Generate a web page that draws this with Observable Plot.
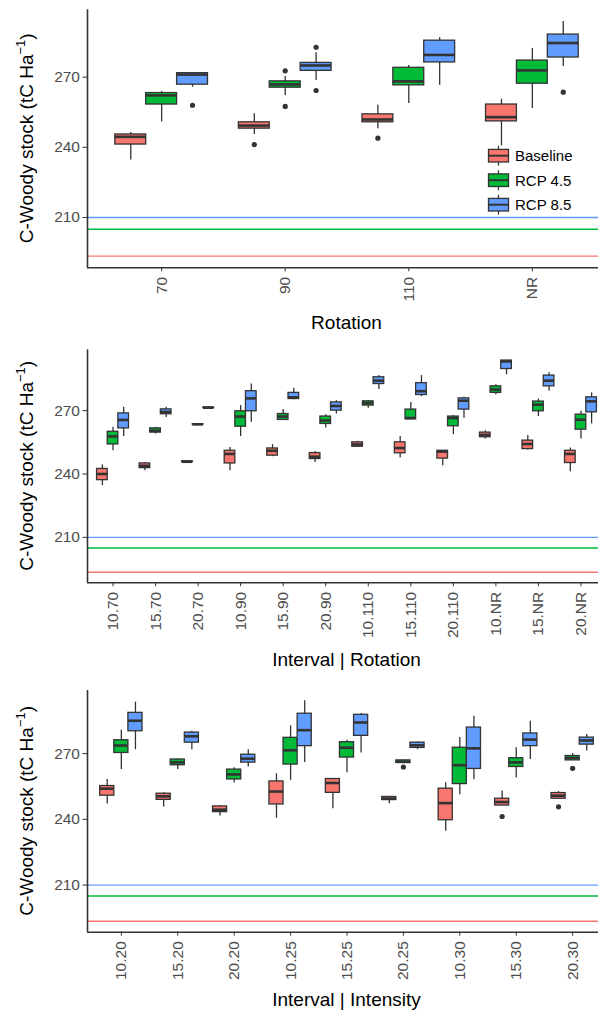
<!DOCTYPE html>
<html><head><meta charset="utf-8">
<script src="https://cdn.jsdelivr.net/npm/d3@7"></script>
<script src="https://cdn.jsdelivr.net/npm/@observablehq/plot@0.6"></script>
<style>
html,body{margin:0;padding:0;background:#fff;overflow:hidden;}
#chart svg{display:block;}
</style></head><body><div id="chart"></div>
<script>
// ---- shared ----
const scenarios = ["Baseline", "RCP 4.5", "RCP 8.5"];
const scenarioColors = ["#F8766D", "#00BA38", "#619CFF"];
const referenceLevels = [193.5, 205.0, 210.0];
const yTicks = [210, 240, 270];
const yDomain = [188.5, 298.8];
const yTitleMain = "C-Woody stock (tC Ha";
const yTitleSup = "\u22121";

// ---- panel 1: Rotation ---- each row [whiskerLow, q1, median, q3, whiskerHigh]
const rotationCats = ["70", "90", "110", "NR"];
const rotationBaseline = [[234.6,241.2,244.5,245.5,246.3],[245.5,248.0,249.3,250.7,254.4],[248.0,250.7,251.9,254.1,258.0],[240.6,251.1,252.9,258.3,260.6]];
const rotationRcp45 = [[250.9,258.3,262.2,263.2,263.9],[262.2,265.5,266.9,268.2,270.3],[258.7,266.5,268.2,274.0,275.0],[256.6,267.2,272.9,277.1,282.3]];
const rotationRcp85 = [[265.7,266.8,271.1,271.7,271.7],[268.6,272.7,275.0,276.1,280.4],[266.5,276.3,279.5,285.6,286.8],[274.6,278.4,284.6,288.2,293.8]];
const rotationOutliers = [["70","RCP 8.5",258.0],["90","Baseline",241.2],["90","RCP 4.5",272.7],["90","RCP 4.5",257.5],["90","RCP 8.5",282.8],["90","RCP 8.5",264.3],["110","Baseline",243.9],["NR","RCP 8.5",263.6]];

// ---- panel 2: Interval | Rotation ----
const intRotCats = ["10.70","15.70","20.70","10.90","15.90","20.90","10.110","15.110","20.110","10.NR","15.NR","20.NR"];
const intRotBaseline = [[234.5,237.1,240.0,242.4,244.3],[241.6,242.8,243.9,245.0,245.5],[245.6,245.7,245.8,246.0,246.1],[241.6,245.0,249.5,251.0,252.6],[248.2,248.7,251.0,252.1,253.9],[245.5,247.1,248.2,249.9,250.6],[252.6,252.9,254.0,255.0,255.5],[247.6,249.8,252.3,255.0,257.8],[243.9,247.3,250.6,251.0,251.0],[256.6,257.4,258.5,259.6,260.5],[251.4,251.8,254.2,255.8,258.2],[241.1,245.2,249.5,251.0,252.3]];
const intRotRcp45 = [[251.0,254.0,257.8,260.0,262.1],[258.9,259.6,260.5,261.6,262.1],[263.3,263.4,263.5,263.6,263.7],[257.7,262.4,267.2,269.7,272.4],[265.3,265.6,267.2,268.4,270.5],[261.8,263.7,265.3,267.2,268.1],[271.1,272.4,273.6,274.4,274.7],[265.9,265.9,266.5,270.5,273.9],[258.6,262.6,266.5,267.2,267.6],[277.4,278.4,280.0,281.5,282.3],[267.2,269.7,272.8,274.3,275.5],[256.6,261.0,265.7,268.1,269.7]];
const intRotRcp85 = [[257.8,261.6,265.6,268.7,271.6],[266.8,268.3,269.4,270.6,271.6],[271.2,271.3,271.4,271.5,271.6],[264.5,269.7,275.8,279.2,282.6],[275.1,275.5,276.3,278.4,280.6],[268.4,270.0,272.2,273.9,274.7],[280.0,282.6,284.2,285.8,286.6],[276.6,277.4,279.2,283.0,286.6],[266.4,270.5,274.7,275.8,276.3],[287.0,289.7,293.3,293.7,293.7],[279.2,281.5,284.2,286.6,287.9],[263.7,269.2,274.4,276.3,278.4]];
const intRotOutliers = [];

// ---- panel 3: Interval | Intensity ----
const intIntCats = ["10.20","15.20","20.20","10.25","15.25","20.25","10.30","15.30","20.30"];
const intIntBaseline = [[247.0,250.8,254.0,255.2,258.2],[245.6,248.9,250.5,251.7,252.1],[241.5,243.3,244.4,245.9,246.3],[240.5,246.8,252.7,257.3,260.8],[244.8,252.1,256.6,258.4,258.4],[247.1,248.8,249.5,250.2,250.5],[234.6,239.6,247.4,254.0,256.7],[246.3,246.3,247.9,249.4,252.9],[249.4,249.4,250.8,252.0,252.7]];
const intIntRcp45 = [[262.8,270.3,273.7,276.1,280.7],[262.7,264.7,266.0,267.3,267.7],[256.6,258.2,260.5,262.7,263.6],[257.8,265.0,271.5,277.2,282.7],[261.3,268.2,272.7,275.2,276.1],[265.7,265.7,266.3,266.9,266.9],[251.2,256.1,264.7,272.7,277.3],[258.9,263.9,266.0,267.9,272.7],[266.9,266.9,268.0,268.9,270.0]];
const intIntRcp85 = [[271.8,280.2,285.0,288.6,293.5],[271.8,275.0,277.9,279.6,280.2],[263.9,265.9,267.7,269.5,271.8],[265.9,273.4,280.7,288.2,294.1],[270.3,278.1,284.2,287.7,288.3],[271.8,272.6,273.8,275.0,275.3],[258.1,263.0,272.4,281.9,287.1],[267.3,273.4,276.4,279.2,284.8],[271.2,274.1,276.0,277.3,278.7]];
const intIntOutliers = [["20.25","RCP 4.5",263.9],["15.30","Baseline",241.3],["20.30","Baseline",245.7],["20.30","RCP 4.5",263.3]];

const FONT = "'Liberation Sans', Arial, Helvetica, sans-serif";
const W = 598, ML = 87, MR = -8;
const DODGE = 0.25, HALF = 0.125;

function panel(cfg) {
  const {cats, stats, outliers, xTitle, height, top, bottom, xTitleY, legend} = cfg;
  const n = cats.length;
  const rows = [];
  scenarios.forEach((s, si) => stats[si].forEach((v, ci) => {
    rows.push({s, pos: ci + (si - 1) * DODGE, lo: v[0], q1: v[1], med: v[2], q3: v[3], hi: v[4]});
  }));
  const outs = outliers.map(([c, s, v]) => ({s, pos: cats.indexOf(c) + (scenarios.indexOf(s) - 1) * DODGE, v}));
  const refs = scenarios.map((s, i) => ({s, v: referenceLevels[i]}));
  const xDomain = [-0.6, n - 1 + 0.6];

  const svg = Plot.plot({
    width: W, height, marginLeft: ML, marginRight: MR, marginTop: top, marginBottom: bottom,
    x: {type: "linear", domain: xDomain},
    y: {domain: yDomain},
    color: {domain: scenarios, range: scenarioColors},
    style: {fontFamily: FONT, fontSize: "15.5px", color: "#4D4D4D", background: "#fff", overflow: "visible"},
    marks: [
      Plot.ruleY(refs, {y: "v", stroke: "s", strokeWidth: 1.4}),
      Plot.ruleX(rows, {x: "pos", y1: "lo", y2: "hi", stroke: "#333", strokeWidth: 1.3}),
      Plot.rect(rows, {x1: d => d.pos - HALF, x2: d => d.pos + HALF, y1: "q1", y2: "q3", fill: "s", stroke: "#333", strokeWidth: 1.3}),
      Plot.ruleY(rows, {y: "med", x1: d => d.pos - HALF, x2: d => d.pos + HALF, stroke: "#333", strokeWidth: 2.6}),
      Plot.dot(outs, {x: "pos", y: "v", r: 2.6, fill: "#333", stroke: null}),
      Plot.axisY(yTicks, {tickSize: 4.5, tickPadding: 3, label: null, stroke: "#333", fill: "#4D4D4D"}),
      Plot.axisX(d3.range(n), {tickFormat: i => cats[i], tickRotate: -90, tickSize: 4, tickPadding: 5, label: null, stroke: "#333", fill: "#4D4D4D"}),
      Plot.ruleY([yDomain[0]], {stroke: "#333", strokeWidth: 1.6}),
      Plot.ruleX([xDomain[0]], {stroke: "#333", strokeWidth: 1.6})
    ]
  });

  const g = d3.select(svg);
  const plotBottom = height - bottom;
  // y title with superscript
  const yt = g.append("text")
    .attr("transform", `translate(33,${(top + plotBottom) / 2}) rotate(-90)`)
    .attr("text-anchor", "middle").attr("fill", "#000")
    .style("font-size", "19px").style("font-family", FONT);
  yt.append("tspan").text(yTitleMain);
  yt.append("tspan").attr("dy", "-8").style("font-size", "13px").text(yTitleSup);
  yt.append("tspan").attr("dy", "8").text(")");
  // x title
  g.append("text").attr("x", ML + (W - MR - ML) / 2).attr("y", xTitleY)
    .attr("text-anchor", "middle").attr("fill", "#000")
    .style("font-size", "19px").style("font-family", FONT).text(xTitle);

  if (legend) {
    const lg = g.append("g").attr("transform", "translate(488.5,0)");
    const rowY = [155.7, 180.2, 204.7];
    scenarios.forEach((s, i) => {
      const cy = rowY[i];
      const k = lg.append("g");
      k.append("line").attr("x1", 10).attr("x2", 10).attr("y1", cy - 10).attr("y2", cy + 10).attr("stroke", "#333").attr("stroke-width", 1.2);
      k.append("rect").attr("x", 0).attr("y", cy - 6.3).attr("width", 20).attr("height", 12.6)
        .attr("fill", scenarioColors[i]).attr("stroke", "#333").attr("stroke-width", 1.3);
      k.append("line").attr("x1", 0).attr("x2", 20).attr("y1", cy).attr("y2", cy).attr("stroke", "#333").attr("stroke-width", 2);
      k.append("text").attr("x", 26.5).attr("y", cy).attr("dy", "0.36em").attr("fill", "#000")
        .attr("text-anchor", "start")
        .style("font-size", "15px").style("font-family", FONT).text(s);
    });
  }
  document.getElementById("chart").appendChild(svg);
}

panel({cats: rotationCats, stats: [rotationBaseline, rotationRcp45, rotationRcp85], outliers: rotationOutliers,
  xTitle: "Rotation", height: 340, top: 9.3, bottom: 72.7, xTitleY: 329, legend: true});
panel({cats: intRotCats, stats: [intRotBaseline, intRotRcp45, intRotRcp85], outliers: intRotOutliers,
  xTitle: "Interval | Rotation", height: 330, top: 9.3, bottom: 87.7, xTitleY: 326, legend: false});
panel({cats: intIntCats, stats: [intIntBaseline, intIntRcp45, intIntRcp85], outliers: intIntOutliers,
  xTitle: "Interval | Intensity", height: 342, top: 20, bottom: 80.3, xTitleY: 336, legend: false});
</script></body></html>
